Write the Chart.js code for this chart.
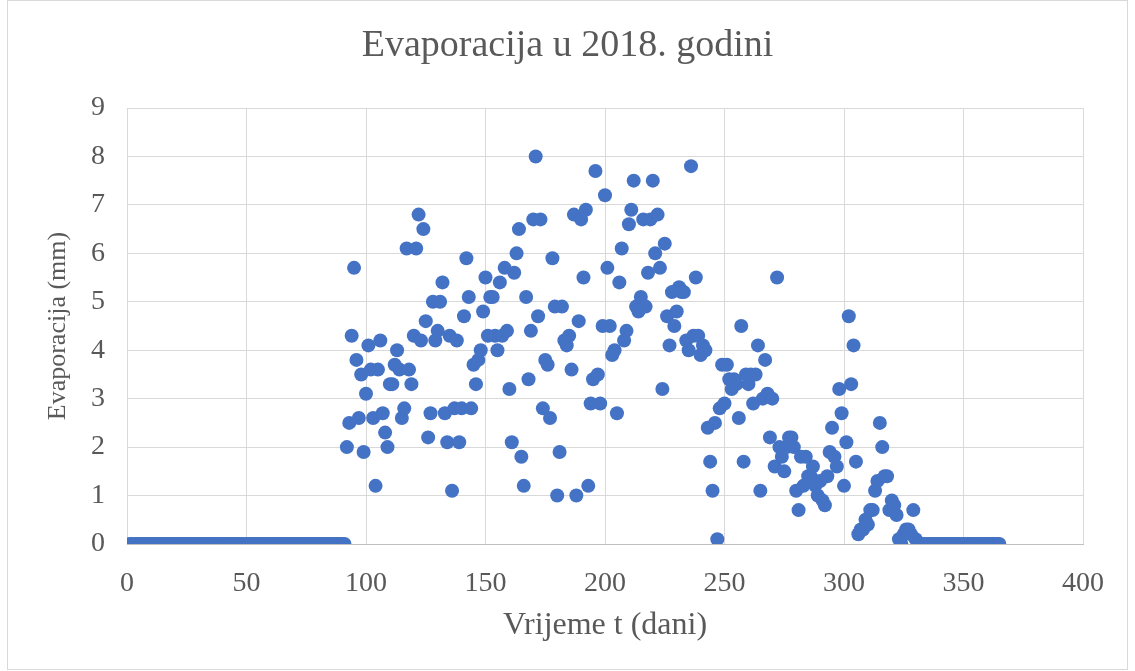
<!DOCTYPE html>
<html>
<head>
<meta charset="utf-8">
<script src="https://cdn.jsdelivr.net/npm/chart.js@4.4.1/dist/chart.umd.min.js"></script>
<style>
  html, body { margin: 0; padding: 0; background: #ffffff; }
  #wrap { width: 1135px; height: 671px; position: relative; }
  canvas { display: block; }
</style>
</head>
<body>
<div id="wrap"><canvas id="c" width="1135" height="671"></canvas></div>
<script>
const chartTitle = "Evaporacija u 2018. godini";
const xTitle = "Vrijeme t (dani)";
const yTitle = "Evaporacija (mm)";
const xTicks = [0, 50, 100, 150, 200, 250, 300, 350, 400];
const yTicks = [0, 1, 2, 3, 4, 5, 6, 7, 8, 9];

// daily evaporation (mm), day 1 .. day 365
const evaporation = [
  0,0,0,0,0,0,0,0,0,0,
  0,0,0,0,0,0,0,0,0,0,
  0,0,0,0,0,0,0,0,0,0,
  0,0,0,0,0,0,0,0,0,0,
  0,0,0,0,0,0,0,0,0,0,
  0,0,0,0,0,0,0,0,0,0,
  0,0,0,0,0,0,0,0,0,0,
  0,0,0,0,0,0,0,0,0,0,
  0,0,0,0,0,0,0,0,0,0,
  0,
  2.0,2.5,4.3,5.7,3.8,2.6,3.5,1.9,3.1,4.1,
  3.6,2.6,1.2,3.6,4.2,2.7,2.3,2.0,3.3,3.3,
  3.7,4.0,3.6,2.6,2.8,6.1,3.6,3.3,4.3,6.1,
  6.8,4.2,6.5,4.6,2.2,2.7,5.0,4.2,4.4,5.0,
  5.4,2.7,2.1,4.3,1.1,2.8,4.2,2.1,2.8,4.7,
  5.9,5.1,2.8,3.7,3.3,3.8,4.0,4.8,5.5,4.3,
  5.1,5.1,4.3,4.0,5.4,4.3,5.7,4.4,3.2,2.1,
  5.6,6.0,6.5,1.8,1.2,5.1,3.4,4.4,6.7,8.0,
  4.7,6.7,2.8,3.8,3.7,2.6,5.9,4.9,1.0,1.9,
  4.9,4.2,4.1,4.3,3.6,6.8,1.0,4.6,6.7,5.5,
  6.9,1.2,2.9,3.4,7.7,3.5,2.9,4.5,7.2,5.7,
  4.5,3.9,4.0,2.7,5.4,6.1,4.2,4.4,6.6,6.9,
  7.5,4.9,4.8,5.1,6.7,4.9,5.6,6.7,7.5,6.0,
  6.8,5.7,3.2,6.2,4.7,4.1,5.2,4.5,4.8,5.3,
  5.2,5.2,4.2,
  4.0,7.8,4.3,5.5,4.3,3.9,4.1,4.0,
  2.4,1.7,1.1,2.5,0.1,2.8,3.7,2.9,3.7,3.4,
  3.2,3.4,3.3,2.6,4.5,1.7,3.5,3.3,3.5,2.9,
  3.5,4.1,1.1,3.0,3.8,3.1,2.2,3.0,1.6,5.5,
  2.0,1.8,1.5,2.0,2.2,2.2,2.0,
  1.1,0.7,1.8,1.2,
  1.8,1.4,1.4,1.6,1.2,1.0,1.3,0.9,0.8,1.4,
  1.9,2.4,1.8,1.6,3.2,2.7,1.2,2.1,4.7,3.3,
  4.1,1.7,0.2,0.3,0.3,0.5,0.4,0.7,0.7,1.1,
  1.3,2.5,2.0,1.4,1.4,0.7,0.9,0.8,0.6,0.1,
  0.0,0.2,0.3,0.3,0.2,0.7,0.1,0.0,
  0,0,0,0,0,0,0,0,0,0,
  0,0,0,0,0,0,0,0,0,0,
  0,0,0,0,0,0,0,0,0,0,
  0,0,0,0
];
const days = evaporation.map((_, i) => i + 1);

const points = days.map((d, i) => ({ x: d, y: evaporation[i] }));

const textColor = "#595959";
const gridColor = "#d9d9d9";
const serif = "'Liberation Serif', 'Times New Roman', serif";

const frame = {
  id: "frame",
  beforeDraw(chart) {
    const ctx = chart.ctx;
    ctx.save();
    ctx.fillStyle = "#ffffff";
    ctx.fillRect(0, 0, chart.width, chart.height);
    ctx.strokeStyle = "#d9d9d9";
    ctx.lineWidth = 1;
    ctx.strokeRect(7.5, 0.5, 1120, 669);
    ctx.restore();
  }
};

new Chart(document.getElementById("c"), {
  type: "scatter",
  data: {
    datasets: [{
      data: points,
      backgroundColor: "#4472C4",
      borderColor: "#4472C4",
      borderWidth: 0,
      pointRadius: 7,
      pointHoverRadius: 7
    }]
  },
  plugins: [frame],
  options: {
    responsive: false,
    animation: false,
    events: [],
    layout: { padding: { left: 0, right: 0, top: 0, bottom: 0 } },
    plugins: {
      legend: { display: false },
      tooltip: { enabled: false },
      title: {
        display: true,
        text: chartTitle,
        color: textColor,
        font: { family: serif, size: 38, weight: "normal" },
        padding: { top: 23, bottom: 39.4 }
      }
    },
    scales: {
      x: {
        type: "linear",
        min: 0,
        max: 400,
        afterBuildTicks(scale) { scale.ticks = xTicks.map(v => ({ value: v })); },
        afterFit(scale) { scale.height = 127; },
        ticks: {
          color: textColor,
          font: { family: serif, size: 28 },
          padding: 23,
          maxRotation: 0
        },
        grid: { color: gridColor, drawTicks: false, lineWidth: 1 },
        border: { display: true, color: "#bfbfbf" },
        title: {
          display: true,
          text: xTitle,
          color: textColor,
          font: { family: serif, size: 32 },
          padding: { top: 8, bottom: 26 }
        }
      },
      y: {
        type: "linear",
        min: 0,
        max: 9,
        afterBuildTicks(scale) { scale.ticks = yTicks.map(v => ({ value: v })); },
        afterFit(scale) { scale.width = 127; },
        ticks: {
          color: textColor,
          font: { family: serif, size: 28 },
          padding: 22
        },
        grid: { color: gridColor, drawTicks: false, lineWidth: 1 },
        border: { display: false },
        title: {
          display: true,
          text: yTitle,
          color: textColor,
          font: { family: serif, size: 26 },
          padding: { top: 43, bottom: 0 }
        }
      },
      yRightSpace: {
        type: "linear",
        position: "right",
        min: 0,
        max: 9,
        display: true,
        afterFit(scale) { scale.width = 52; },
        ticks: { display: false },
        grid: { display: false, drawTicks: false },
        border: { display: false },
        title: { display: false }
      }
    }
  }
});
</script>
</body>
</html>
